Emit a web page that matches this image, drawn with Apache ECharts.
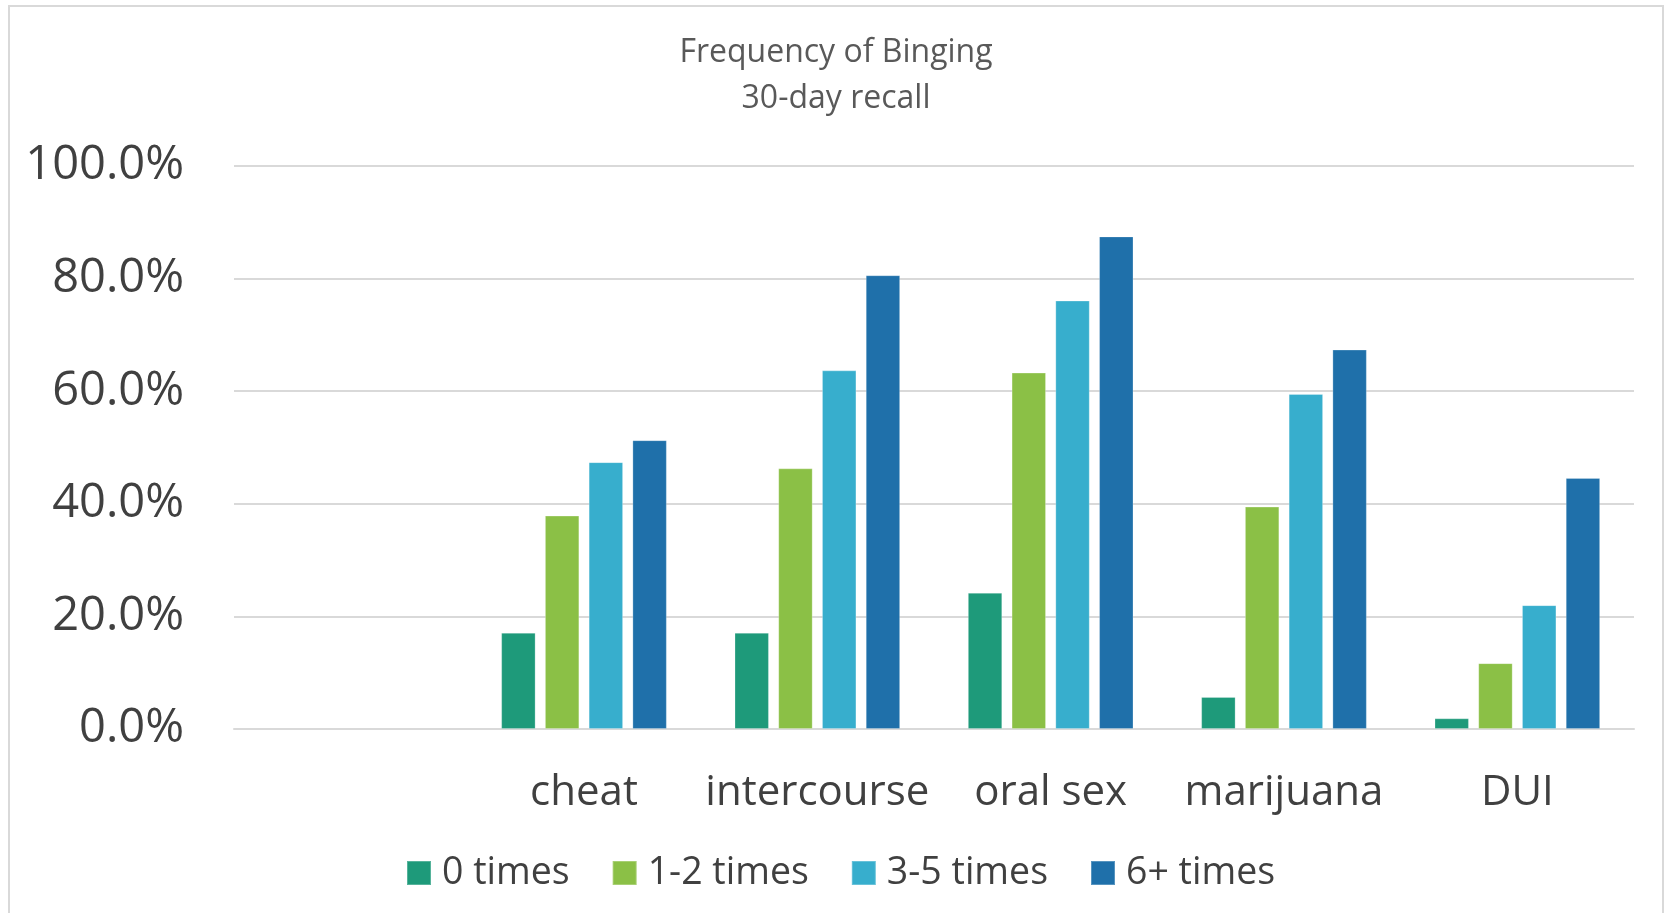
<!DOCTYPE html>
<html>
<head>
<meta charset="utf-8">
<script src="https://cdn.jsdelivr.net/npm/echarts@6/dist/echarts.min.js"></script>
<style>
  html, body { margin: 0; padding: 0; background: #ffffff; }
  #chart { width: 1667px; height: 913px; }
</style>
</head>
<body>
<div id="chart"></div>
<script>
// Behaviour categories (the first slot is left empty on purpose)
const categories = ['', 'cheat', 'intercourse', 'oral sex', 'marijuana', 'DUI'];

// Share of respondents, by number of binge episodes in the last 30 days
const seriesNames = ['0 times', '1-2 times', '3-5 times', '6+ times'];
const zeroTimes  = [null, 17.1, 17.1, 24.2, 5.7, 1.9];
const oneTwo     = [null, 37.9, 46.3, 63.3, 39.5, 11.7];
const threeFive  = [null, 47.4, 63.7, 76.1, 59.5, 22.0];
const sixPlus    = [null, 51.3, 80.6, 87.5, 67.4, 44.6];

const yTicks = [0, 20, 40, 60, 80, 100];
const colors = ['#1E9A7A', '#8BC046', '#37AECD', '#1F70AA'];

const FONT = '"Open Sans", "Noto Sans", sans-serif';
const values = [zeroTimes, oneTwo, threeFive, sixPlus];

const chart = echarts.init(document.getElementById('chart'), null, { renderer: 'canvas' });

chart.setOption({
  animation: false,
  backgroundColor: '#ffffff',
  color: colors,
  graphic: [{
    type: 'rect',
    shape: { x: 9, y: 6, width: 1654, height: 960 },
    style: { fill: 'none', stroke: '#D9D9D9', lineWidth: 2 },
    silent: true,
    z: -10
  }],
  title: {
    text: 'Frequency of Binging\n30-day recall',
    left: 831,
    textAlign: 'center',
    top: 25,
    textStyle: {
      fontFamily: FONT,
      fontWeight: 'normal',
      fontSize: 32,
      lineHeight: 46,
      color: '#595959'
    }
  },
  legend: {
    data: seriesNames,
    left: 406,
    top: 854,
    padding: 0,
    icon: 'rect',
    itemWidth: 24,
    itemHeight: 24,
    itemGap: 42,
    textStyle: {
      fontFamily: FONT,
      fontSize: 37.5,
      color: '#404040',
      padding: [0, 0, 0, 6]
    }
  },
  grid: {
    left: 234,
    right: 33,
    top: 166,
    bottom: 184,
    containLabel: false
  },
  xAxis: {
    type: 'category',
    data: categories,
    axisLine: { show: true, lineStyle: { color: '#D9D9D9', width: 2 } },
    axisTick: { show: false },
    axisLabel: {
      fontFamily: FONT,
      fontSize: 42,
      color: '#404040',
      margin: 43,
      interval: 0
    }
  },
  yAxis: {
    type: 'value',
    min: yTicks[0],
    max: yTicks[yTicks.length - 1],
    interval: 20,
    axisLine: { show: false },
    axisTick: { show: false },
    splitLine: { lineStyle: { color: '#D9D9D9', width: 2 } },
    axisLabel: {
      fontFamily: FONT,
      fontSize: 47,
      color: '#404040',
      margin: 50,
      formatter: v => v.toFixed(1) + '%'
    }
  },
  series: seriesNames.map((name, i) => ({
    name: name,
    type: 'bar',
    data: values[i],
    barGap: '27%',
    barCategoryGap: '29%',
    itemStyle: {
      color: colors[i],
      borderColor: 'rgba(255,255,255,0.25)',
      borderWidth: 1
    }
  }))
});
</script>
</body>
</html>
